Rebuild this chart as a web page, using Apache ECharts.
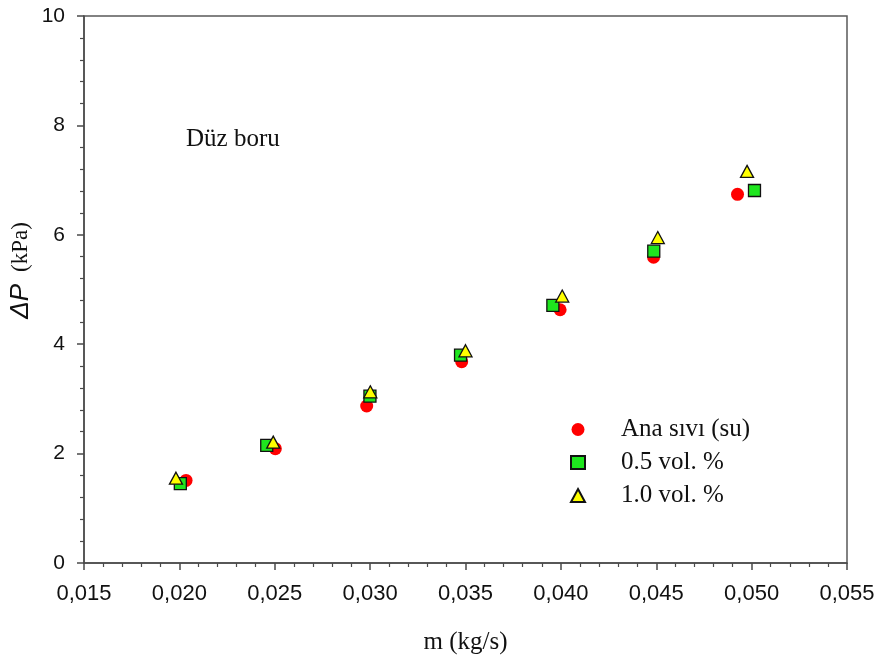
<!DOCTYPE html>
<html>
<head>
<meta charset="utf-8">
<script src="https://cdn.jsdelivr.net/npm/echarts@6/dist/echarts.min.js"></script>
<style>
  html, body { margin: 0; padding: 0; background: #fff; }
  #chart { width: 880px; height: 664px; }
</style>
</head>
<body>
<div id="chart"></div>
<script>
// Pressure drop vs. mass flow rate, straight pipe
const seriesNames = ['Ana sıvı (su)', '0.5 vol. %', '1.0 vol. %'];

const baseFlow = [0.02035, 0.02503, 0.02982, 0.03480, 0.03996, 0.04486, 0.04926];
const baseDp   = [1.51, 2.09, 2.87, 3.68, 4.63, 5.59, 6.74];

const vol05Flow = [0.02005, 0.02458, 0.02999, 0.03474, 0.03958, 0.04487, 0.05015];
const vol05Dp   = [1.45, 2.15, 3.05, 3.80, 4.71, 5.70, 6.81];

const vol10Flow = [0.01982, 0.02492, 0.03001, 0.03500, 0.04007, 0.04508, 0.04976];
const vol10Dp   = [1.55, 2.21, 3.13, 3.88, 4.88, 5.95, 7.16];

const xTicks = [0.015, 0.020, 0.025, 0.030, 0.035, 0.040, 0.045, 0.050, 0.055];
const yTicks = [0, 2, 4, 6, 8, 10];

const pairs = (xs, ys) => xs.map((x, i) => [x, ys[i]]);

const chart = echarts.init(document.getElementById('chart'), null, { renderer: 'canvas' });

const axisColor = '#4a4a4a';
const sans = 'Liberation Sans, Arial, sans-serif';
const serif = 'Liberation Serif, Times New Roman, serif';

chart.setOption({
  backgroundColor: '#fff',
  animation: false,
  grid: {
    left: 84, top: 16, right: 33, bottom: 101,
    outerBoundsMode: 'none', containLabel: false,
    show: true, borderColor: '#5a5a5a', borderWidth: 1.5, backgroundColor: 'transparent'
  },
  xAxis: {
    type: 'value',
    min: xTicks[0], max: xTicks[xTicks.length - 1], interval: 0.005,
    name: 'm (kg/s)', nameLocation: 'middle', nameGap: 67, nameMoveOverlap: false,
    nameTextStyle: { fontFamily: serif, fontSize: 25, color: '#111' },
    axisLine: { show: true, lineStyle: { color: axisColor, width: 1.5 } },
    axisTick: { show: true, inside: false, length: 7, lineStyle: { color: axisColor, width: 1.5 } },
    minorTick: { show: true, splitNumber: 5, length: 4, lineStyle: { color: axisColor, width: 1.2 } },
    splitLine: { show: false },
    axisLabel: {
      fontFamily: sans, fontSize: 22, color: '#111', margin: 20,
      formatter: v => v.toFixed(3).replace('.', ',')
    }
  },
  yAxis: {
    type: 'value',
    min: yTicks[0], max: yTicks[yTicks.length - 1], interval: 2,
    name: '{s|}{d|ΔP}{g|}{u|(kPa)}', nameLocation: 'middle', nameGap: 50, nameRotate: 90,
    nameMoveOverlap: false,
    nameTextStyle: {
      rich: {
        s: { width: 38 },
        d: { fontFamily: sans, fontStyle: 'italic', fontSize: 26, color: '#111' },
        g: { width: 12 },
        u: { fontFamily: serif, fontSize: 23, color: '#111' }
      }
    },
    axisLine: { show: true, lineStyle: { color: axisColor, width: 1.5 } },
    axisTick: { show: true, inside: false, length: 7, lineStyle: { color: axisColor, width: 1.5 } },
    minorTick: { show: true, splitNumber: 5, length: 4, lineStyle: { color: axisColor, width: 1.2 } },
    splitLine: { show: false },
    axisLabel: { fontFamily: sans, fontSize: 21, color: '#111', margin: 19 }
  },
  legend: {
    orient: 'vertical',
    left: 570, top: 417, padding: 0,
    itemWidth: 14, itemHeight: 13, itemGap: 8,
    data: [
      { name: seriesNames[0], icon: 'circle' },
      { name: seriesNames[1], icon: 'rect' },
      { name: seriesNames[2], icon: 'triangle' }
    ],
    formatter: n => '{g|}{t|' + n + '}',
    textStyle: {
      rich: {
        g: { width: 31 },
        t: { fontFamily: serif, fontSize: 25, lineHeight: 24, color: '#111' }
      }
    }
  },
  graphic: [{
    type: 'text', left: 186, top: 127,
    style: { text: 'Düz boru', fontFamily: serif, fontSize: 25, fill: '#111' }
  }],
  series: [
    {
      name: seriesNames[0], type: 'scatter', symbol: 'circle', symbolSize: 13,
      itemStyle: { color: '#ff0000', opacity: 1 },
      data: pairs(baseFlow, baseDp)
    },
    {
      name: seriesNames[1], type: 'scatter', symbol: 'rect', symbolSize: 12,
      itemStyle: { color: '#1ee61e', borderColor: '#111', borderWidth: 1.3, opacity: 1 },
      data: pairs(vol05Flow, vol05Dp)
    },
    {
      name: seriesNames[2], type: 'scatter', symbol: 'triangle', symbolSize: [13, 12],
      itemStyle: { color: '#ffff00', borderColor: '#111', borderWidth: 1.3, opacity: 1 },
      data: pairs(vol10Flow, vol10Dp)
    }
  ]
});
</script>
</body>
</html>
